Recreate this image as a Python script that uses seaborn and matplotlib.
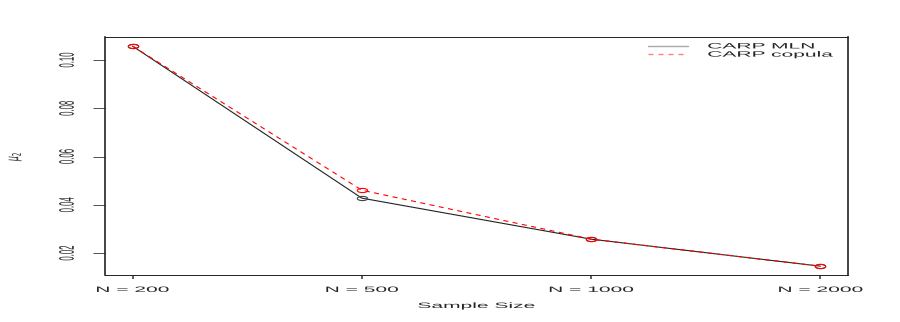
import numpy as np
import pandas as pd
import matplotlib
matplotlib.use("Agg")
import matplotlib.pyplot as plt
import seaborn as sns
from matplotlib.path import Path
from matplotlib.patheffects import AbstractPathEffect
from matplotlib.transforms import Affine2D

# Values
sizes = ["N = 200", "N = 500", "N = 1000", "N = 2000"]
mln = [0.1058, 0.0428, 0.0258, 0.0146]
copula = [0.1058, 0.0461, 0.0258, 0.0146]
yticks = [0.02, 0.04, 0.06, 0.08, 0.10]


class StretchX(AbstractPathEffect):
    """Draw text stretched horizontally (the reference image is a squeezed R plot)."""

    def __init__(self, sx, anchor="center"):
        super().__init__()
        self.sx = sx
        self.anchor = anchor

    def draw_path(self, renderer, gc, tpath, affine, rgbFace=None):
        ext = tpath.get_extents(affine)
        if self.anchor == "left":
            x0 = ext.x0
        elif self.anchor == "right":
            x0 = ext.x1
        else:
            x0 = 0.5 * (ext.x0 + ext.x1)
        new = affine + Affine2D().translate(-x0, 0).scale(self.sx, 1).translate(x0, 0)
        renderer.draw_path(gc, tpath, new, rgbFace)


SX = 2.7
FS = 5.6

df = pd.DataFrame({
    "pos": np.arange(1, len(sizes) + 1).tolist() * 2,
    "mu2": mln + copula,
    "method": ["CARP MLN"] * len(sizes) + ["CARP copula"] * len(sizes),
})

sns.set_style("white")
plt.rcParams["font.family"] = ["Liberation Sans", "DejaVu Sans"]
plt.rcParams["lines.scale_dashes"] = False

# flattened open circle, like the stretched R plot
t = np.linspace(0, 2 * np.pi, 60)
ellipse = Path(np.column_stack([np.cos(t), 0.4 * np.sin(t)]))

fig = plt.figure(figsize=(9, 3.22), dpi=100)
ax = fig.add_axes([105 / 900, (322 - 275) / 322, 743 / 900, 237.7 / 322])

sub = df[df["method"] == "CARP MLN"]
sns.lineplot(data=sub, x="pos", y="mu2", ax=ax, color="#222222", lw=0.8,
             marker=ellipse, markersize=7.5, markerfacecolor="none",
             markeredgecolor="#444444", markeredgewidth=0.8, label="CARP MLN")
sub = df[df["method"] == "CARP copula"]
sns.lineplot(data=sub, x="pos", y="mu2", ax=ax, color="red", lw=0.8,
             linestyle=(0, (3.6, 3.2)), marker=ellipse, markersize=7.5,
             markerfacecolor="none", markeredgecolor="red",
             markeredgewidth=0.8, label="CARP copula")

lo = min(mln + copula)
hi = max(mln + copula)
pad = (hi - lo) * 0.04
ax.set_ylim(lo - pad, hi + pad)
ax.set_xlim(1 - 0.12, 4 + 0.12)
ax.set_xticks(range(1, 5))
ax.set_xticklabels(sizes, fontsize=FS)
ax.set_yticks(yticks)
ax.set_yticklabels([f"{v:.2f}" for v in yticks], fontsize=FS,
                   rotation=90, va="center")
ax.tick_params(axis="x", direction="out", length=3.2, width=1.1,
               color="#333333", bottom=True, pad=5.4)
ax.tick_params(axis="y", direction="out", length=9, width=0.6,
               color="#333333", left=True, pad=12)
for side, s in ax.spines.items():
    s.set_visible(True)
    s.set_color("#222222")
    s.set_linewidth(1.2 if side in ("left", "right") else 0.7)

for lab in ax.get_xticklabels():
    lab.set_path_effects([StretchX(SX, "center")])
for lab in ax.get_yticklabels():
    lab.set_path_effects([StretchX(SX, "right")])

ax.set_xlabel("Sample Size", fontsize=FS, labelpad=6.5)
ax.xaxis.label.set_path_effects([StretchX(SX, "center")])
ax.set_ylabel(r"$\mu_2$", fontsize=FS)
ax.yaxis.set_label_coords((24 - 105) / 743, 0.5)
ax.yaxis.label.set_path_effects([StretchX(2.2, "right")])

leg = ax.legend(loc="upper left", bbox_to_anchor=(648 / 900, 1 - 43 / 322),
                bbox_transform=fig.transFigure, frameon=False, fontsize=FS,
                handlelength=5.1, handletextpad=2.6, borderpad=0,
                borderaxespad=0, labelspacing=0.1)
hl = leg.get_lines()
hl[0].set_color("#aaaaaa")
hl[1].set_color("#ff8080")
hl[1].set_linestyle((0, (3.6, 3.6)))
for h in hl:
    h.set_marker("")
    h.set_linewidth(1.0)
for txt in leg.get_texts():
    txt.set_path_effects([StretchX(SX, "left")])

fig.savefig("out.png", dpi=100)
